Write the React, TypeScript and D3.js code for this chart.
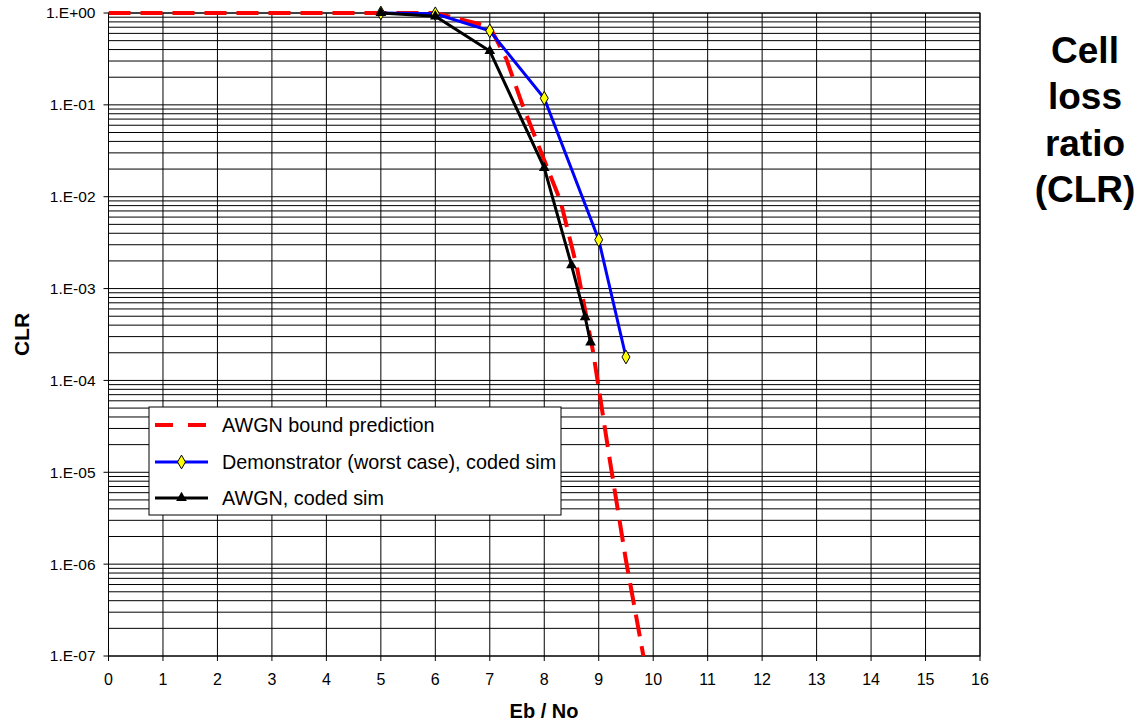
import * as d3 from "d3";
import React from "react";

// x: Eb/No (dB), y: cell loss ratio
const boundX = [0, 6, 7, 7.3, 7.6, 8, 8.3, 8.6, 8.9, 9.2, 9.5, 9.85];
const boundY = [1, 1, 0.71, 0.32, 0.1, 0.025, 0.0089, 0.0017, 0.0002, 0.000014, 0.0000011, 0.00000008];

const demoX = [5, 6, 7, 8, 9, 9.5];
const demoY = [1, 0.98, 0.64, 0.118, 0.0034, 0.00018];

const awgnX = [5, 6, 7, 8, 8.5, 8.75, 8.85];
const awgnY = [1, 0.92, 0.386, 0.0206, 0.0018, 0.00049, 0.00026];

const xTicks = d3.range(0, 17);
const yTickLabels = ["1.E+00", "1.E-01", "1.E-02", "1.E-03", "1.E-04", "1.E-05", "1.E-06", "1.E-07"];
const legendLabels = ["AWGN bound prediction", "Demonstrator (worst case), coded sim", "AWGN, coded sim"];

const W = 1144;
const H = 726;
const margin = { top: 13, right: 164, bottom: 70, left: 108.5 };
const font = "'Liberation Sans', Arial, sans-serif";

export default function App() {
  const x = d3.scaleLinear().domain([0, 16]).range([margin.left, W - margin.right]);
  const y = d3.scaleLog().domain([1e-7, 1]).range([H - margin.bottom, margin.top]);

  // minor grid: 1..9 in every decade
  const gridY: number[] = [];
  for (let e = -7; e < 0; e++) {
    for (let m = 1; m < 10; m++) gridY.push(m * Math.pow(10, e));
  }
  gridY.push(1);

  const line = d3.line<[number, number]>().x(d => x(d[0])).y(d => y(d[1]));
  const bound = boundX.map((v, i) => [v, boundY[i]] as [number, number]);
  const demo = demoX.map((v, i) => [v, demoY[i]] as [number, number]);
  const awgn = awgnX.map((v, i) => [v, awgnY[i]] as [number, number]);

  const diamond = d3.symbol(d3.symbolDiamond, 55)()!;
  const triangle = d3.symbol(d3.symbolTriangle, 50)()!;

  const x0 = x(0), x1 = x(16), yTop = y(1), yBot = y(1e-7);
  const lg = { x: 149, y: 407, w: 412, h: 108 };
  const rows = [425, 462, 498];

  return (
    <svg width={W} height={H} style={{ position: "absolute", left: 0, top: 0, background: "#fff" }}>
      <defs>
        <clipPath id="plot">
          <rect x={x0} y={yTop - 5} width={x1 - x0} height={yBot - yTop + 5} />
        </clipPath>
      </defs>

      {/* grid */}
      <g stroke="#000" strokeWidth={1}>
        {gridY.map((v, i) => (
          <line key={"h" + i} x1={x0} x2={x1} y1={y(v)} y2={y(v)} />
        ))}
        {xTicks.map(t => (
          <line key={"v" + t} x1={x(t)} x2={x(t)} y1={yTop} y2={yBot} />
        ))}
        <rect x={x0} y={yTop} width={x1 - x0} height={yBot - yTop} fill="none" />
        {/* ticks */}
        {yTickLabels.map((_, i) => (
          <line key={"yt" + i} x1={x0 - 5} x2={x0} y1={y(Math.pow(10, -i))} y2={y(Math.pow(10, -i))} />
        ))}
        {xTicks.map(t => (
          <line key={"xt" + t} x1={x(t)} x2={x(t)} y1={yBot} y2={yBot + 5} />
        ))}
      </g>

      {/* tick labels */}
      <g fontFamily={font} fill="#000">
        {yTickLabels.map((s, i) => (
          <text key={s} x={x0 - 13} y={y(Math.pow(10, -i))} dy="0.35em" textAnchor="end" fontSize={15.5}>{s}</text>
        ))}
        {xTicks.map(t => (
          <text key={t} x={x(t)} y={yBot + 29} textAnchor="middle" fontSize={16}>{t}</text>
        ))}
      </g>

      {/* axis titles */}
      <text x={544} y={718} textAnchor="middle" fontFamily={font} fontWeight="bold" fontSize={20}>Eb / No</text>
      <text transform={`translate(29,${(yTop + yBot) / 2}) rotate(-90)`} textAnchor="middle"
        fontFamily={font} fontWeight="bold" fontSize={21}>CLR</text>

      <text fontFamily={font} fontWeight="bold" fontSize={37} textAnchor="middle">
        {["Cell", "loss", "ratio", "(CLR)"].map((s, i) => (
          <tspan key={s} x={1085} y={63 + i * 46.3}>{s}</tspan>
        ))}
      </text>

      {/* series */}
      <g clipPath="url(#plot)" fill="none">
        <path d={line(bound)!} stroke="#ff0000" strokeWidth={4} strokeDasharray="22,10" />
        <path d={line(demo)!} stroke="#0000ff" strokeWidth={3} />
        <path d={line(awgn)!} stroke="#000" strokeWidth={3} />
      </g>
      {demo.map((d, i) => (
        <path key={"d" + i} d={diamond} transform={`translate(${x(d[0])},${y(d[1])})`}
          fill="#ffff00" stroke="#000" strokeWidth={1} />
      ))}
      {awgn.map((d, i) => (
        <path key={"a" + i} d={triangle} transform={`translate(${x(d[0])},${y(d[1])})`} fill="#000" />
      ))}

      {/* legend */}
      <rect x={lg.x} y={lg.y} width={lg.w} height={lg.h} fill="#fff" stroke="#000" strokeWidth={1} />
      <line x1={155} x2={208} y1={rows[0]} y2={rows[0]} stroke="#ff0000" strokeWidth={4} strokeDasharray="18,15" />
      <line x1={155} x2={208} y1={rows[1]} y2={rows[1]} stroke="#0000ff" strokeWidth={3} />
      <path d={diamond} transform={`translate(181.5,${rows[1]})`} fill="#ffff00" stroke="#000" strokeWidth={1} />
      <line x1={155} x2={208} y1={rows[2]} y2={rows[2]} stroke="#000" strokeWidth={3} />
      <path d={triangle} transform={`translate(181.5,${rows[2]})`} fill="#000" />
      <g fontFamily={font} fontSize={19.8}>
        {legendLabels.map((s, i) => (
          <text key={s} x={222} y={rows[i]} dy="0.35em">{s}</text>
        ))}
      </g>
    </svg>
  );
}
